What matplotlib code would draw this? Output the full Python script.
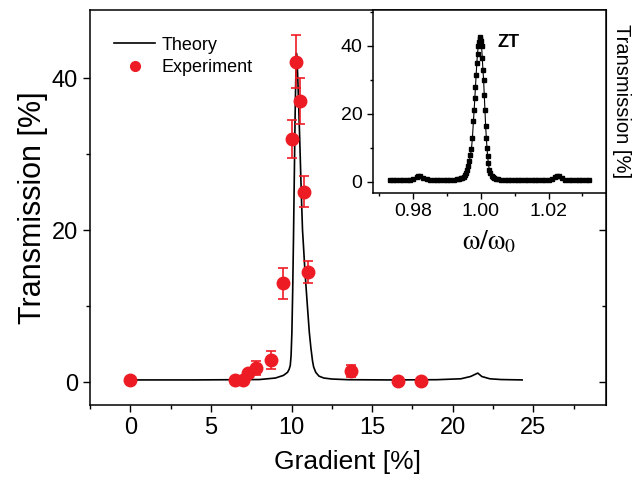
import numpy as np
import matplotlib
matplotlib.use('Agg')
import matplotlib.pyplot as plt
from matplotlib.ticker import MultipleLocator
from matplotlib.lines import Line2D

plt.rcParams['font.family'] = ['Liberation Sans', 'DejaVu Sans']
plt.rcParams['mathtext.fontset'] = 'stix'

# theory curve (gradient %, transmission %)
theory_x = [0, 4, 8, 9.0, 9.5, 9.75, 9.85, 9.92, 9.97, 10.02, 10.07, 10.12, 10.17,
            10.22, 10.27, 10.30, 10.34, 10.39, 10.44, 10.49, 10.54, 10.58, 10.63,
            10.68, 10.74, 10.82, 10.90, 11.00, 11.10, 11.20, 11.30, 11.37, 11.50,
            11.70, 12.0, 12.5, 13.5, 16, 19, 20.5, 21.1, 21.4, 21.55, 21.8, 22.3,
            23, 24.3]
theory_y = [0.3, 0.3, 0.35, 0.55, 0.9, 1.3, 1.7, 2.2, 3.5, 6.5, 12, 19, 27,
            35, 41, 43.3, 42.5, 39.8, 36.5, 33.2, 29.5, 26.6, 23.2,
            20, 17.9, 15, 12.5, 9.5, 6.6, 4.5, 2.8, 2.0, 1.3,
            0.8, 0.55, 0.42, 0.33, 0.3, 0.33, 0.45, 0.75, 1.05, 1.2, 0.75, 0.45,
            0.35, 0.3]

# experiment
exp_x = [0, 6.5, 7.0, 7.3, 7.8, 8.7, 9.5, 10.0, 10.3, 10.5, 10.8, 11.0, 13.7, 16.6, 18.0]
exp_y = [0.3, 0.3, 0.3, 1.15, 1.9, 2.9, 13.0, 32.0, 42.2, 37.0, 25.1, 14.5, 1.5, 0.1, 0.15]
exp_err = [0.1, 0.1, 0.1, 0.4, 0.9, 1.2, 2.0, 2.5, 3.5, 3.0, 2.0, 1.5, 0.8, 0.1, 0.1]

# inset: transmission vs omega/omega0
inset_x = [0.973, 0.974, 0.975, 0.976, 0.977, 0.978, 0.979, 0.980, 0.981, 0.9815,
           0.982, 0.983, 0.984, 0.985, 0.986, 0.987, 0.988, 0.989, 0.990, 0.991,
           0.992, 0.993, 0.9935,
           0.9940, 0.9945, 0.9950, 0.9954, 0.9957, 0.9960, 0.9963, 0.9966, 0.9969,
           0.9972, 0.9975, 0.9978, 0.9980, 0.9982, 0.9984, 0.9986, 0.9988, 0.9990,
           0.9992, 0.9994, 0.9996, 0.9998, 1.0000, 1.0002, 1.0004, 1.0006, 1.0008,
           1.0010, 1.0012, 1.0014, 1.0016, 1.0018, 1.0020, 1.0022, 1.0025, 1.0028,
           1.0032, 1.0036, 1.0040, 1.0045,
           1.005, 1.006, 1.007, 1.008, 1.009, 1.010, 1.011, 1.012, 1.013, 1.014,
           1.015, 1.016, 1.017, 1.018, 1.019, 1.020, 1.021, 1.022, 1.0225, 1.023,
           1.024, 1.025, 1.026, 1.027, 1.028, 1.029, 1.030, 1.031, 1.032]
inset_y = [0.4, 0.4, 0.4, 0.4, 0.4, 0.45, 0.55, 0.8, 1.3, 1.8,
           1.6, 1.1, 0.7, 0.5, 0.45, 0.4, 0.4, 0.45, 0.5, 0.55,
           0.65, 0.8, 0.9,
           1.0, 1.2, 1.5, 1.9, 2.5, 3.4, 4.6, 6.2, 7.8,
           9.6, 13, 18, 21, 24.5, 28, 31.5, 35, 37.5,
           40, 41, 42, 42.5, 41.5, 40, 36.5, 33, 30,
           25.5, 21, 16.5, 13, 10, 7.5, 5.5, 3.4, 2.5,
           1.8, 1.4, 1.1, 0.9,
           0.8, 0.65, 0.55, 0.5, 0.45, 0.45, 0.4, 0.4, 0.4, 0.4,
           0.4, 0.4, 0.4, 0.42, 0.45, 0.55, 0.8, 1.3, 1.8, 1.6,
           1.0, 0.6, 0.45, 0.4, 0.4, 0.4, 0.4, 0.4, 0.4]

red = '#ED1C24'

fig = plt.figure(figsize=(6.37, 4.79), dpi=100)
ax = fig.add_axes([0.1413, 0.1545, 0.81, 0.8246])

ax.plot(theory_x, theory_y, color='black', lw=1.2)
ax.errorbar(exp_x, exp_y, yerr=exp_err, fmt='o', color=red, ms=9, ecolor=red,
            elinewidth=1.2, capsize=3.5, capthick=1.2, zorder=3)

ax.set_xlim(-2.5, 29.5)
ax.set_ylim(-3, 49)
ax.set_xticks([0, 5, 10, 15, 20, 25])
ax.set_yticks([0, 20, 40])
ax.xaxis.set_minor_locator(MultipleLocator(2.5))
ax.yaxis.set_minor_locator(MultipleLocator(10))
ax.tick_params(which='both', direction='out', top=False, right=False, labelsize=17, width=1)
ax.tick_params(which='major', length=5)
ax.tick_params(which='minor', length=3)
for s in ax.spines.values():
    s.set_linewidth(1.1)
ax.set_xlabel('Gradient [%]', fontsize=19, labelpad=8)
ax.set_ylabel('Transmission [%]', fontsize=22, labelpad=3)

# right-side inward ticks
axr = ax.secondary_yaxis('right')
axr.set_yticks([0, 20, 40])
axr.yaxis.set_minor_locator(MultipleLocator(10))
axr.tick_params(which='both', direction='in', labelright=False, width=1)
axr.tick_params(which='major', length=5)
axr.tick_params(which='minor', length=3)

handles = [Line2D([], [], color='black', lw=1.2),
           Line2D([], [], ls='none', marker='o', color=red, ms=7)]
ax.legend(handles, ['Theory', 'Experiment'], loc='upper left',
          bbox_to_anchor=(0.025, 0.96), frameon=False, fontsize=13,
          handlelength=2.3, handletextpad=0.35, labelspacing=0.3,
          borderaxespad=0.2)

# inset
ins = fig.add_axes([0.5851, 0.5977, 0.3662, 0.3814])
ins.plot(inset_x, inset_y, color='black', lw=0.8, marker='s', ms=3.4,
         mfc='black', mec='black')
ins.set_xlim(0.968, 1.037)
ins.set_ylim(-3.2, 50.5)
ins.set_xticks([0.98, 1.00, 1.02])
ins.set_xticklabels(['0.98', '1.00', '1.02'])
ins.set_yticks([0, 20, 40])
ins.xaxis.set_minor_locator(MultipleLocator(0.01))
ins.yaxis.set_minor_locator(MultipleLocator(10))
ins.tick_params(which='both', direction='out', labelsize=14, width=1)
ins.tick_params(which='major', length=4)
ins.tick_params(which='minor', length=2.5)
for s in ins.spines.values():
    s.set_linewidth(1.1)
ins.set_xlabel(r'$\mathrm{\omega/\omega_0}$', fontsize=20, labelpad=6)
ins.yaxis.set_label_position('right')
ins.set_ylabel('Transmission [%]', fontsize=14.5, rotation=-90, labelpad=18)
ins.text(1.0049, 41, 'ZT', fontsize=13, fontweight='bold', va='center', ha='left')

fig.savefig('out.png', dpi=100)
